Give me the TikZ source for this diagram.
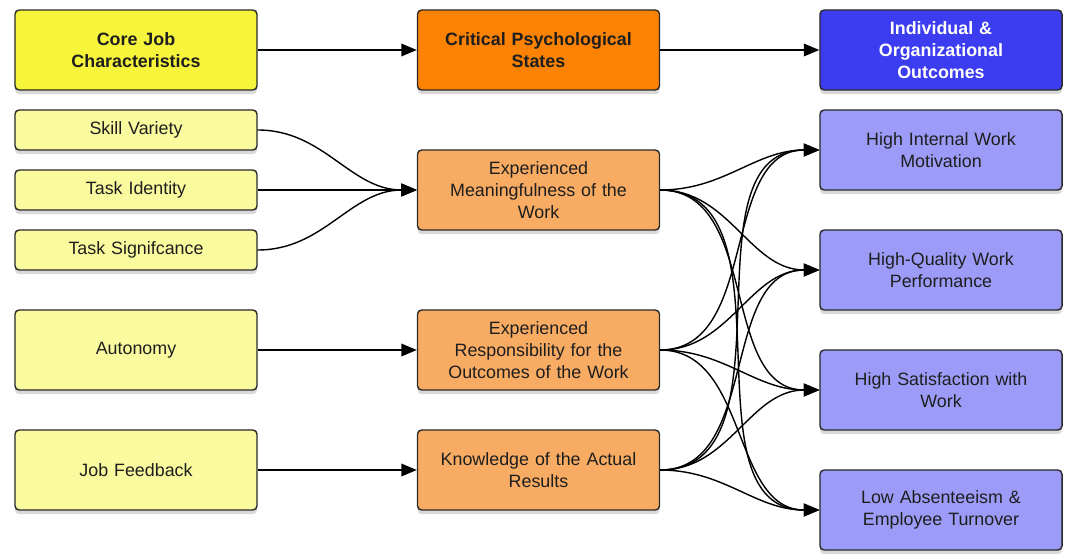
\documentclass[tikz,border=0pt]{standalone}
\usepackage{fontspec}
\setmainfont{Liberation Sans}
\usetikzlibrary{arrows.meta, positioning, shadows}

\definecolor{coreyellow}{HTML}{F7F53B}
\definecolor{jobyellow}{HTML}{FAFA9E}
\definecolor{psyorange}{HTML}{FB8203}
\definecolor{stateorange}{HTML}{F8AB62}
\definecolor{outblue}{HTML}{3C3CF0}
\definecolor{outlilac}{HTML}{9C9CF8}
\definecolor{boxline}{HTML}{2A2A2A}
\definecolor{boxtext}{HTML}{1E1E1E}

\begin{document}
\begin{tikzpicture}[x=0.025cm, y=-0.025cm,
    box/.style={draw=boxline, line width=1pt, rounded corners=3pt,
      minimum width=6.05cm, text width=5.7cm, align=center, text=boxtext,
      font=\fontsize{12.7}{15.4}\selectfont,
      drop shadow={shadow xshift=0pt, shadow yshift=-3pt, opacity=0.3}},
    tall/.style={box, minimum height=2cm},
    short/.style={box, minimum height=1cm},
    head/.style={font=\fontsize{12.7}{15.4}\selectfont\bfseries},
    link/.style={line width=1pt, -{Triangle[length=11pt,width=9pt]}}]
  \useasboundingbox (0,0) rectangle (1076,559);

  % header row
  \node[tall, head, fill=coreyellow] (core) at (136,50) {Core Job\\Characteristics};
  \node[tall, head, fill=psyorange] (crit) at (538.5,50) {Critical Psychological\\States};
  \node[tall, head, fill=outblue, text=white] (outc) at (941,50) {Individual \&\\Organizational\\Outcomes};

  % core job characteristics
  \node[short, fill=jobyellow] (skill) at (136,130) {Skill Variety};
  \node[short, fill=jobyellow] (ident) at (136,190) {Task Identity};
  \node[short, fill=jobyellow] (signif) at (136,250) {Task Signifcance};
  \node[tall, fill=jobyellow] (auto) at (136,350) {Autonomy};
  \node[tall, fill=jobyellow] (feed) at (136,470) {Job Feedback};

  % psychological states
  \node[tall, fill=stateorange] (mean) at (538.5,190) {Experienced\\Meaningfulness of the\\Work};
  \node[tall, fill=stateorange] (resp) at (538.5,350) {Experienced\\Responsibility for the\\Outcomes of the Work};
  \node[tall, fill=stateorange] (know) at (538.5,470) {Knowledge of the Actual\\Results};

  % outcomes
  \node[tall, fill=outlilac] (motiv) at (941,150) {High Internal Work\\Motivation};
  \node[tall, fill=outlilac] (perf) at (941,270) {High-Quality Work\\Performance};
  \node[tall, fill=outlilac] (satis) at (941,390) {High Satisfaction with\\Work};
  \node[tall, fill=outlilac] (absent) at (941,510) {Low Absenteeism \&\\Employee Turnover};

  % connectors
  \draw[link] (core) -- (crit);
  \draw[link] (crit) -- (outc);
  \draw[link] (skill.east) to[out=0, in=180] (mean.west);
  \draw[link] (ident.east) -- (mean.west);
  \draw[link] (signif.east) to[out=0, in=180] (mean.west);
  \draw[link] (auto) -- (resp);
  \draw[link] (feed) -- (know);
  \foreach \s in {mean, resp, know}
    \foreach \t in {motiv, perf, satis, absent}
      \draw[link] (\s.east) to[out=0, in=180] (\t.west);
\end{tikzpicture}
\end{document}
